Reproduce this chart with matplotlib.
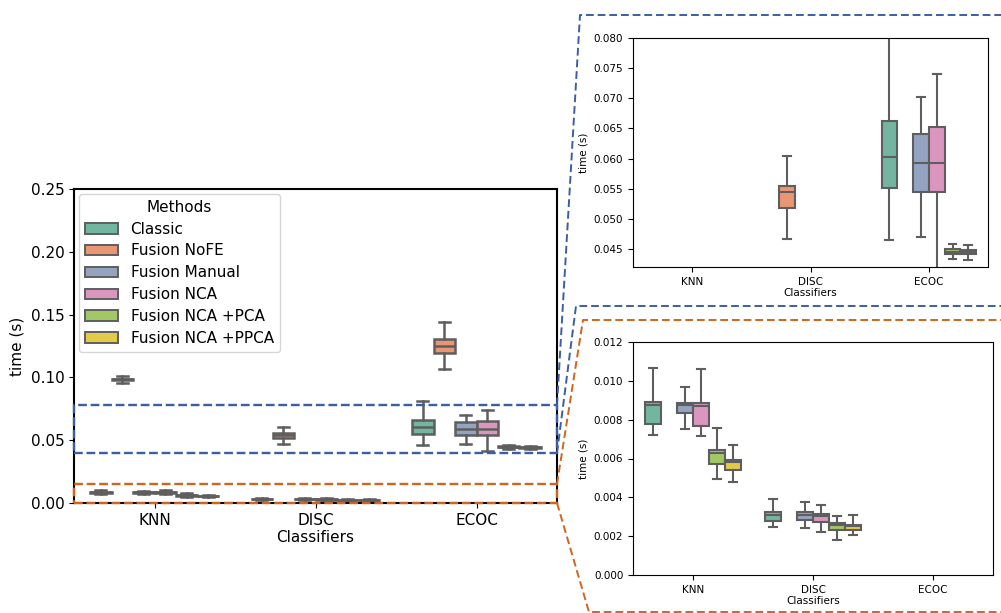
import colorsys
import matplotlib
matplotlib.use('Agg')
import matplotlib.pyplot as plt
from matplotlib.lines import Line2D
from matplotlib.patches import Patch, Rectangle
from matplotlib.colors import to_rgb

classifiers = ['KNN', 'DISC', 'ECOC']
methods = ['Classic', 'Fusion NoFE', 'Fusion Manual', 'Fusion NCA',
           'Fusion NCA +PCA', 'Fusion NCA +PPCA']
palette = ['#66c2a5', '#fc8d62', '#8da0cb', '#e78ac3', '#a6d854', '#ffd92f']

# box stats, one row per method, columns = KNN, DISC, ECOC
whislo = [[0.00719, 0.00248, 0.0465],
          [0.0958, 0.0467, 0.1069],
          [0.00750, 0.00244, 0.0469],
          [0.00714, 0.00222, 0.0412],
          [0.00493, 0.00182, 0.0433],
          [0.00480, 0.00204, 0.0432]]
q1 = [[0.00777, 0.00280, 0.0551],
      [0.0978, 0.0518, 0.1192],
      [0.00832, 0.00284, 0.0545],
      [0.00767, 0.00273, 0.0544],
      [0.00574, 0.00234, 0.0442],
      [0.00543, 0.00230, 0.0441]]
med = [[0.00877, 0.00311, 0.0602],
       [0.0985, 0.0544, 0.1250],
       [0.00873, 0.00311, 0.0592],
       [0.00868, 0.00306, 0.0592],
       [0.00627, 0.00259, 0.04455],
       [0.00583, 0.00251, 0.0445]]
q3 = [[0.00893, 0.00325, 0.0663],
      [0.0990, 0.0554, 0.1306],
      [0.00887, 0.00325, 0.0641],
      [0.00884, 0.00315, 0.0652],
      [0.00643, 0.00268, 0.0450],
      [0.00591, 0.00259, 0.0449]]
whishi = [[0.01064, 0.00392, 0.0812],
          [0.1011, 0.0605, 0.1444],
          [0.00970, 0.00375, 0.0702],
          [0.01063, 0.00363, 0.0740],
          [0.00757, 0.00306, 0.0458],
          [0.00667, 0.00311, 0.0456]]


def desat(c, s=0.75):
    h, l, sat = colorsys.rgb_to_hls(*to_rgb(c))
    return colorsys.hls_to_rgb(h, l, sat * s)


colors = [desat(c) for c in palette]
LINE = '#5e5e5e'
BLUE = '#3a5fa6'
ORANGE = '#cf651e'
W = 0.8 / len(methods)


def draw_boxes(ax, lw):
    for j, m in enumerate(methods):
        stats = []
        pos = []
        for i, c in enumerate(classifiers):
            stats.append(dict(whislo=whislo[j][i], q1=q1[j][i], med=med[j][i],
                              q3=q3[j][i], whishi=whishi[j][i], fliers=[]))
            pos.append(i + (j - 2.5) * W)
        ax.bxp(stats, positions=pos, widths=W, patch_artist=True, showfliers=False,
               boxprops=dict(facecolor=colors[j], edgecolor=LINE, linewidth=lw),
               medianprops=dict(color=LINE, linewidth=lw),
               whiskerprops=dict(color=LINE, linewidth=lw),
               capprops=dict(color=LINE, linewidth=lw))
    ax.set_xticks(range(len(classifiers)))
    ax.set_xticklabels(classifiers)
    ax.set_xlim(-0.5, 2.5)


def px(x, y):
    return x / 1001, 1 - y / 613


fig = plt.figure(figsize=(10.01, 6.13), dpi=100)

# main axes
l, t = px(74, 189)
r, b = px(557, 503)
ax = fig.add_axes([l, b, r - l, t - b])
draw_boxes(ax, 1.8)
ax.set_ylim(0, 0.25)
ax.set_yticks([0, 0.05, 0.10, 0.15, 0.20, 0.25])
ax.set_yticklabels(['0.00', '0.05', '0.10', '0.15', '0.20', '0.25'])
ax.tick_params(labelsize=11)
ax.set_xlabel('Classifiers', fontsize=11, labelpad=2)
ax.set_ylabel('time (s)', fontsize=11)
for s in ax.spines.values():
    s.set_linewidth(1.5)
handles = [Patch(facecolor=colors[j], edgecolor=LINE, linewidth=1.4, label=m)
           for j, m in enumerate(methods)]
ax.legend(handles=handles, title='Methods', loc='upper left', fontsize=11,
          title_fontsize=11, handlelength=2.2, labelspacing=0.45,
          borderaxespad=0.3)

# zoom rectangles on the main axes
ax.add_patch(Rectangle((-0.5, 0.040), 3.0, 0.038, fill=False, edgecolor=BLUE,
                       linestyle='--', linewidth=1.7, zorder=5, clip_on=False))
ax.add_patch(Rectangle((-0.5, 0.0), 3.0, 0.015, fill=False, edgecolor=ORANGE,
                       linestyle='--', linewidth=1.7, zorder=5, clip_on=False))

# top inset
l, t = px(633, 38)
r, b = px(988, 267)
ax2 = fig.add_axes([l, b, r - l, t - b])
draw_boxes(ax2, 1.5)
ax2.set_ylim(0.042, 0.080)
ax2.set_yticks([0.045, 0.050, 0.055, 0.060, 0.065, 0.070, 0.075, 0.080])
ax2.set_yticklabels(['%.3f' % v for v in ax2.get_yticks()])
ax2.tick_params(labelsize=7.5)
ax2.set_xlabel('Classifiers', fontsize=7.5, labelpad=1)
ax2.set_ylabel('time (s)', fontsize=7.5)

# bottom inset
l, t = px(633, 342)
r, b = px(993, 575)
ax3 = fig.add_axes([l, b, r - l, t - b])
draw_boxes(ax3, 1.5)
ax3.set_ylim(0, 0.012)
ax3.set_yticks([0, 0.002, 0.004, 0.006, 0.008, 0.010, 0.012])
ax3.set_yticklabels(['%.3f' % v for v in ax3.get_yticks()])
ax3.tick_params(labelsize=7.5)
ax3.set_xlabel('Classifiers', fontsize=7.5, labelpad=1)
ax3.set_ylabel('time (s)', fontsize=7.5)

# connector frames in figure coordinates
for pts, col in [([(557, 405), (580, 15), (1010, 15)], BLUE),
                 ([(557, 453), (576, 306), (1010, 306)], BLUE),
                 ([(557, 484), (583, 320), (1010, 320)], ORANGE),
                 ([(557, 503), (589, 612), (1010, 612)], ORANGE)]:
    xs, ys = zip(*[px(x, y) for x, y in pts])
    fig.add_artist(Line2D(xs, ys, color=col, linestyle='--', linewidth=1.4,
                          dashes=(4, 2), transform=fig.transFigure,
                          dash_joinstyle='round'))

fig.savefig('out.png', dpi=100)
